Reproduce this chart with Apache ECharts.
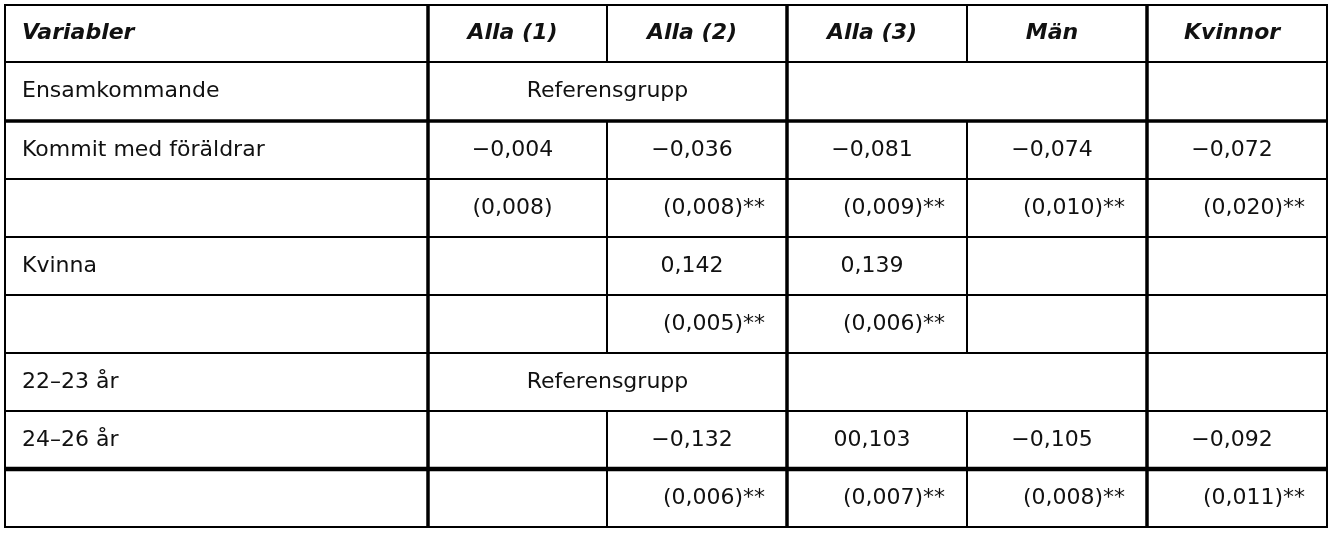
<!DOCTYPE html>
<html><head><meta charset="utf-8">
<script src="https://cdn.jsdelivr.net/npm/echarts@6/dist/echarts.min.js"></script>
<style>html,body{margin:0;padding:0;background:#fff}#c{width:1336px;height:536px}</style>
</head><body><div id="c"></div>
<script>
const headers = ["Variabler","Alla (1)","Alla (2)","Alla (3)","Män","Kvinnor"];
const rowLabels = ["Ensamkommande","Kommit med föräldrar","","Kvinna","","22–23 år","24–26 år",""];
const colAlla1 = ["Referensgrupp","−0,004","(0,008)","","","Referensgrupp","",""];
const colAlla2 = ["","−0,036","(0,008)**","0,142","(0,005)**","","−0,132","(0,006)**"];
const colAlla3 = ["","−0,081","(0,009)**","0,139","(0,006)**","","00,103","(0,007)**"];
const colMan   = ["","−0,074","(0,010)**","","","","−0,105","(0,008)**"];
const colKvinnor = ["","−0,072","(0,020)**","","","","−0,092","(0,011)**"];

// layout (pixel-space of the hidden value axes)
const colX = [5,428,607,787,967,1147,1327];
const rowY = [5,62,121,179,237,295,353,411,469,527];
const mergedRows = [0,5]; // body rows where col1-2 and col3-4 are merged
const thickV = [428,787,1147];
const splitV = [607,967];
const hW = {121:3.5,469:4.5};
const FONT = "'DejaVu Sans', sans-serif";

const cols = [rowLabels,colAlla1,colAlla2,colAlla3,colMan,colKvinnor];
const cells = [];
headers.forEach((h,c)=>cells.push({r:-1,c,t:h}));
for(let c=0;c<cols.length;c++) cols[c].forEach((t,r)=>{ if(t) cells.push({r,c,t}); });

const chart = echarts.init(document.getElementById('c'));
chart.setOption({
  animation:false,
  grid:{left:0,right:0,top:0,bottom:0},
  xAxis:{type:'value',min:0,max:1336,show:false},
  yAxis:{type:'value',min:0,max:536,inverse:true,show:false},
  series:[{
    type:'custom',
    data:[[0,0]],
    renderItem:(params,api)=>{
      const P=(x,y)=>api.coord([x,y]);
      const ch=[];
      const line=(x1,y1,x2,y2,w)=>{const a=P(x1,y1),b=P(x2,y2);
        ch.push({type:'line',shape:{x1:a[0],y1:a[1],x2:b[0],y2:b[1]},style:{stroke:'#000',lineWidth:w}});};
      rowY.forEach(y=>line(colX[0]-1,y,colX[6]+1,y,hW[y]||2));
      colX.filter(x=>!splitV.includes(x)).forEach(x=>line(x,rowY[0],x,rowY[9],thickV.includes(x)?3.5:2));
      splitV.forEach(x=>{
        for(let i=0;i<rowY.length-1;i++){
          if(!mergedRows.includes(i-1)) line(x,rowY[i],x,rowY[i+1],2);
        }
      });
      cells.forEach(cl=>{
        const y0=rowY[cl.r+1], y1=rowY[cl.r+2];
        let cx, align='center';
        const merged = cl.r>=0 && mergedRows.includes(cl.r) && cl.c===1;
        if(cl.c===0){cx=colX[0]+17;align='left';}
        else if(merged){cx=(colX[1]+colX[3])/2;}
        else {cx=(colX[cl.c]+colX[cl.c+1])/2 - 5; if(cl.t.endsWith('**')) cx+=22;}
        const p=P(cx,(y0+y1)/2);
        ch.push({type:'text',x:p[0],y:p[1],style:{text:cl.t,fill:'#111',
          font:(cl.r<0?'italic bold ':'')+'22px '+FONT,align,verticalAlign:'middle'}});
      });
      return {type:'group',children:ch};
    }
  }]
});
</script></body></html>
